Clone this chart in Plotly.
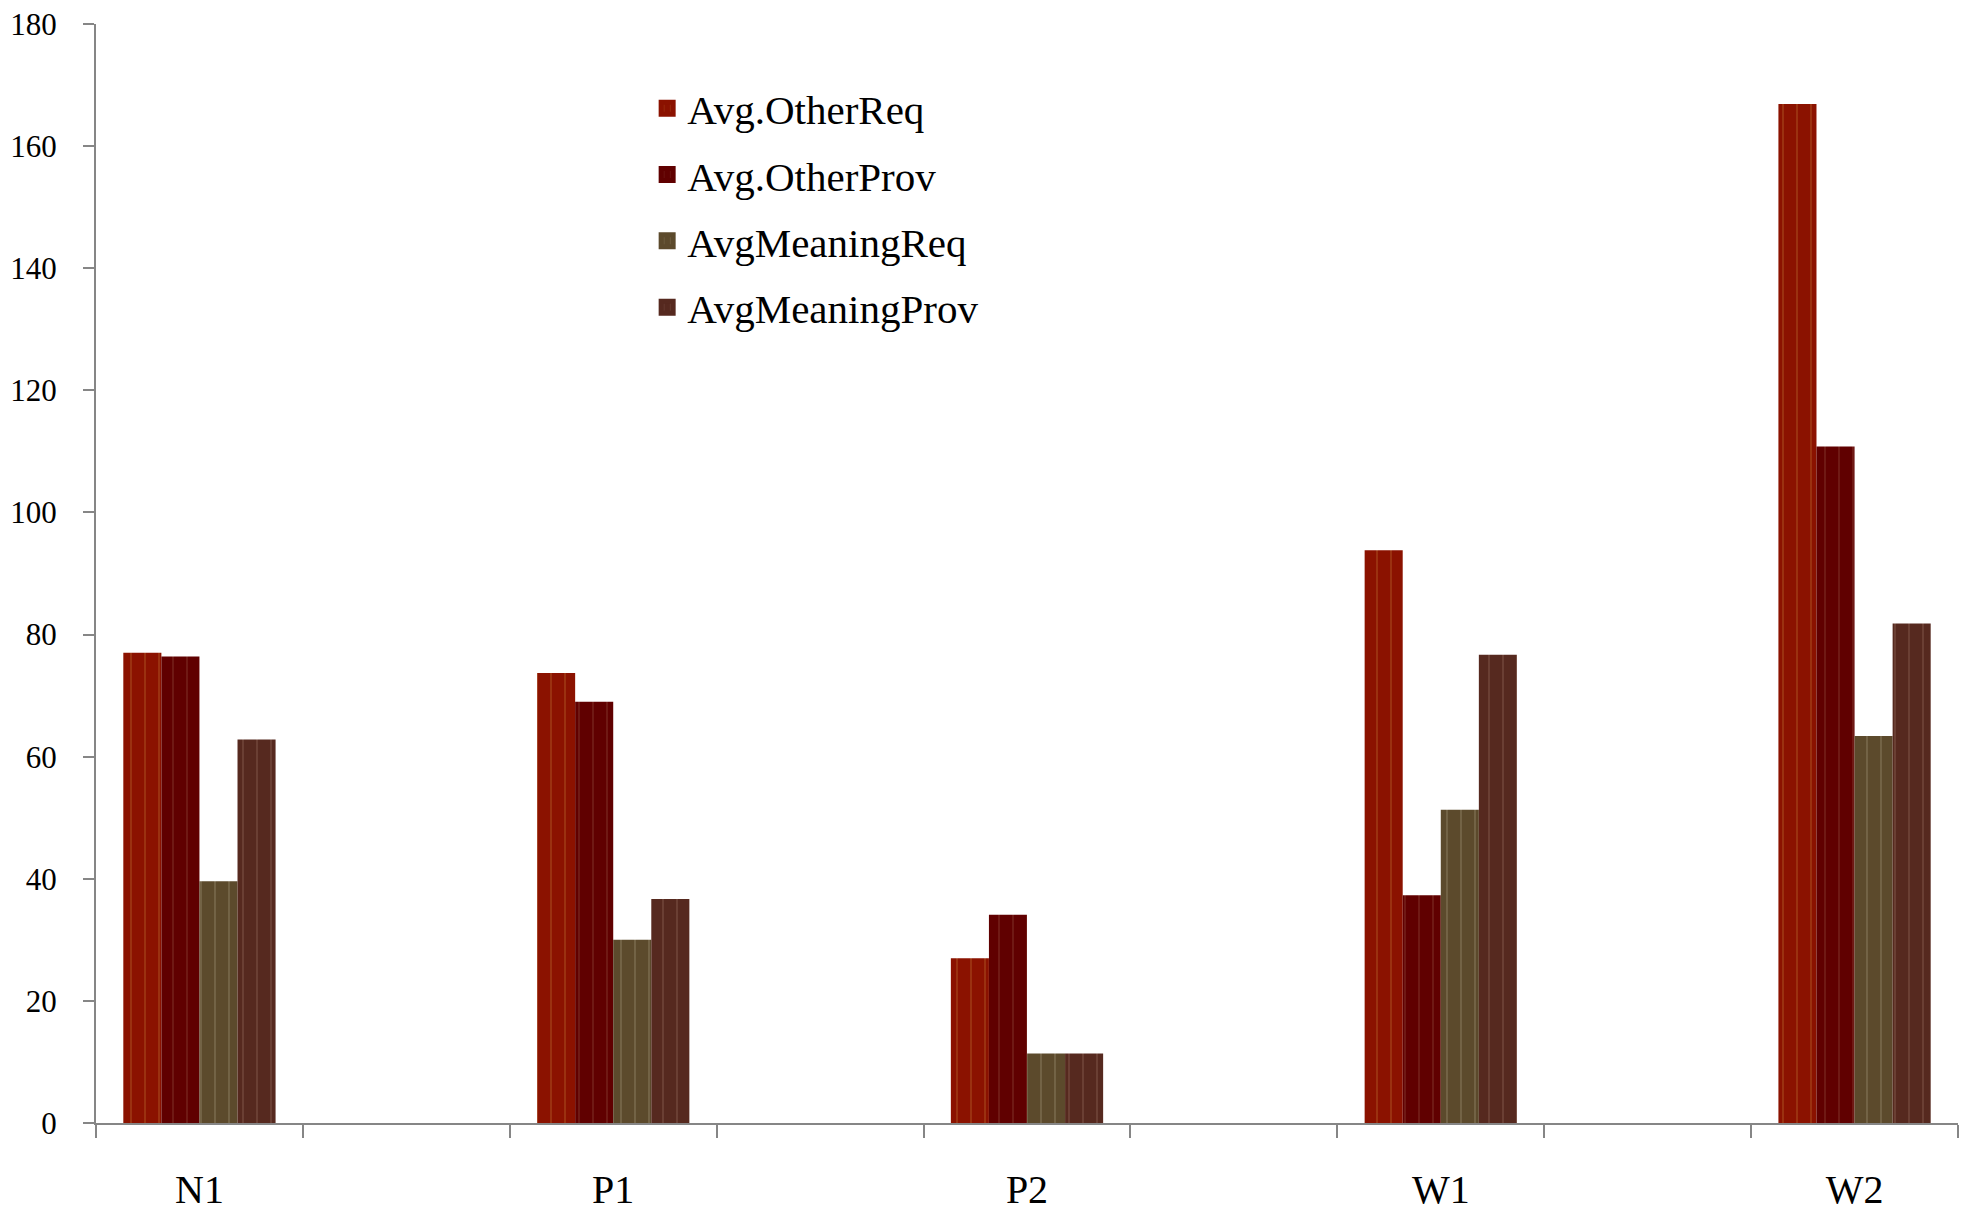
import plotly.graph_objects as go

categories = ["N1", " ", "P1", "  ", "P2", "   ", "W1", "    ", "W2"]
groups = ["N1", "P1", "P2", "W1", "W2"]

series_names = ["Avg.OtherReq", "Avg.OtherProv", "AvgMeaningReq", "AvgMeaningProv"]
other_req = [77.0, 73.7, 27.0, 93.8, 166.9]
other_prov = [76.4, 69.0, 34.1, 37.3, 110.8]
meaning_req = [39.6, 30.0, 11.4, 51.3, 63.4]
meaning_prov = [62.8, 36.7, 11.4, 76.7, 81.8]

y_ticks = [0, 20, 40, 60, 80, 100, 120, 140, 160, 180]

colors = ["#8B1200", "#600000", "#5C4A2C", "#56291F"]
stripe_colors = ["#A03A14", "#74201A", "#7A6A4C", "#704539"]

fig = go.Figure()
for i, (name, vals) in enumerate(zip(series_names, [other_req, other_prov, meaning_req, meaning_prov])):
    pattern = dict(shape="|", size=14, solidity=0.12,
                   fgcolor=stripe_colors[i], fgopacity=0.9, fillmode="overlay")
    # real bars (no legend entry)
    fig.add_trace(go.Bar(
        x=groups, y=vals, name=name,
        legendgroup=name, offsetgroup=str(i), showlegend=False,
        marker=dict(color=colors[i], line=dict(width=0), pattern=pattern),
    ))
    # legend-only entry with a larger swatch (no data drawn)
    fig.add_trace(go.Bar(
        x=[None], y=[None], name=name,
        legendgroup=name, offsetgroup=str(i), showlegend=True,
        hoverinfo="skip",
        marker=dict(color=colors[i], line=dict(width=5, color=colors[i]),
                    pattern=dict(shape="|", size=8, solidity=0.15,
                                 fgcolor=stripe_colors[i], fgopacity=0.9,
                                 fillmode="overlay")),
    ))

axis_color = "#868686"
serif = "Liberation Serif, Times New Roman, serif"
fig.update_layout(
    width=1962, height=1203,
    margin=dict(l=88, r=12, t=16, b=88),
    paper_bgcolor="white", plot_bgcolor="white",
    barmode="group", bargap=0.264, bargroupgap=0.0,
    font=dict(family=serif, color="black"),
    showlegend=True,
    legend=dict(
        x=0.296, y=0.9535, xanchor="left", yanchor="top",
        font=dict(size=41, family=serif),
        bgcolor="rgba(0,0,0,0)",
        traceorder="grouped", tracegroupgap=10,
        itemwidth=30,
    ),
    xaxis=dict(
        type="category", categoryorder="array", categoryarray=categories,
        tickmode="array", tickvals=categories, ticktext=categories,
        tickson="boundaries", ticks="outside", ticklen=13, tickwidth=2,
        tickcolor=axis_color, showline=True, linecolor=axis_color, linewidth=2,
        showgrid=False, zeroline=False, automargin=False,
        tickfont=dict(size=40, family=serif),
        ticklabelstandoff=30, ticklabeloverflow="allow",
        range=[-0.5, 8.5],
    ),
    yaxis=dict(
        range=[0, 180], tickmode="array", tickvals=y_ticks,
        ticks="outside", ticklen=11, tickwidth=2, tickcolor=axis_color,
        showline=True, linecolor=axis_color, linewidth=2,
        showgrid=False, zeroline=False, automargin=False,
        tickfont=dict(size=31, family=serif),
        ticklabelstandoff=20, ticklabeloverflow="allow",
    ),
)

fig.write_html("out.html")
